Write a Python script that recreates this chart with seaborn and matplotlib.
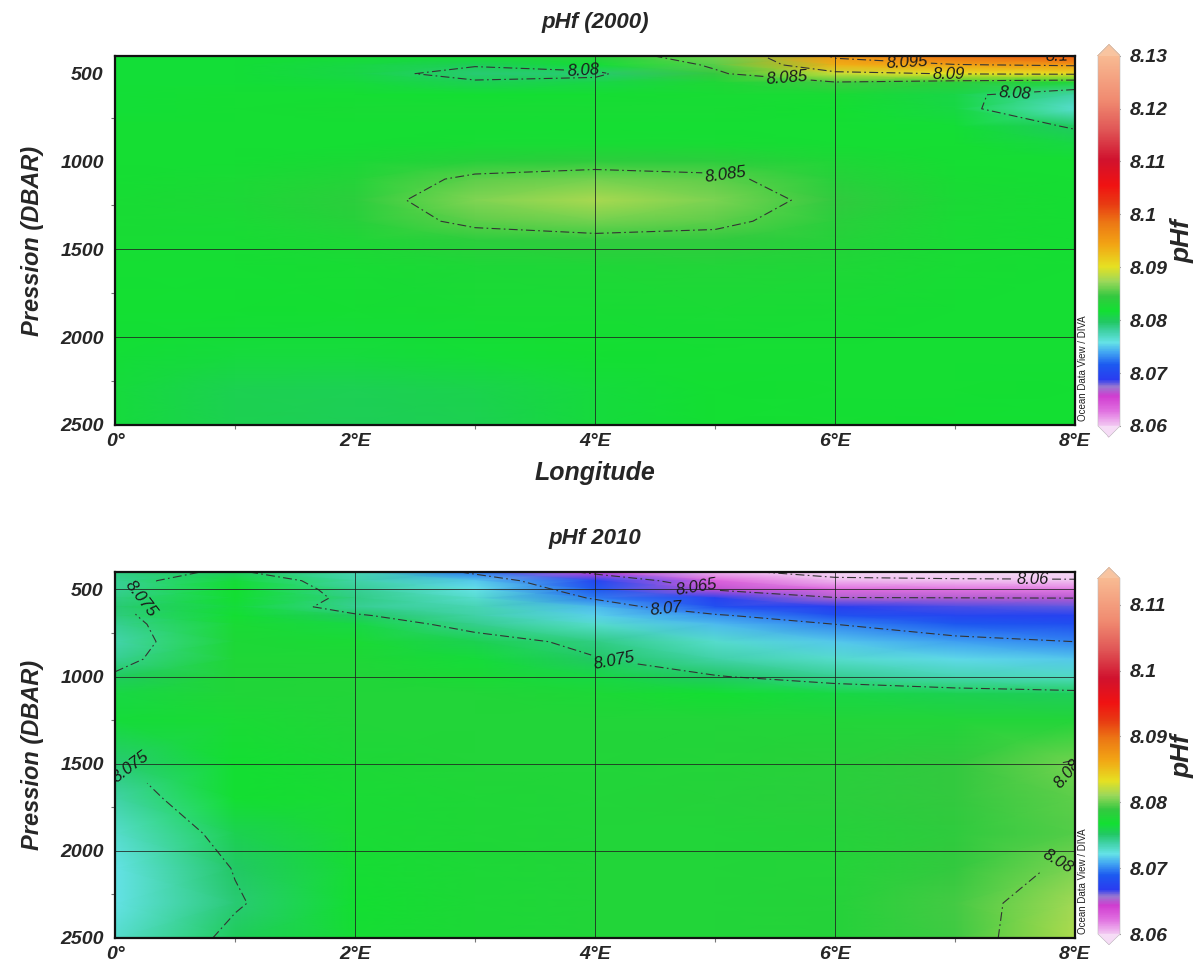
import numpy as np
import matplotlib
matplotlib.use("Agg")
import matplotlib.pyplot as plt
from matplotlib.colors import LinearSegmentedColormap, Normalize
import seaborn as sns

# --- data (pHf, section 0-8°E) ---
lon = [0, 1, 2, 3, 4, 5, 6, 7, 8]

pres_2000 = [400, 450, 500, 550, 620, 700, 800, 900, 1000, 1100, 1220, 1340, 1450, 1600, 1850, 2100, 2300, 2500]
ph_2000 = [
    [8.0815, 8.0815, 8.0820, 8.0820, 8.0838, 8.0862, 8.0955, 8.0988, 8.1003],
    [8.0815, 8.0815, 8.0810, 8.0802, 8.0815, 8.0855, 8.0935, 8.0948, 8.0955],
    [8.0815, 8.0815, 8.0808, 8.0792, 8.0794, 8.0845, 8.0890, 8.0902, 8.0905],
    [8.0815, 8.0815, 8.0812, 8.0803, 8.0808, 8.0828, 8.0848, 8.0838, 8.0830],
    [8.0815, 8.0820, 8.0820, 8.0818, 8.0820, 8.0822, 8.0822, 8.0808, 8.0778],
    [8.0815, 8.0820, 8.0822, 8.0822, 8.0822, 8.0822, 8.0818, 8.0810, 8.0765],
    [8.0820, 8.0820, 8.0820, 8.0820, 8.0820, 8.0820, 8.0820, 8.0815, 8.0798],
    [8.0820, 8.0820, 8.0820, 8.0822, 8.0822, 8.0822, 8.0820, 8.0820, 8.0810],
    [8.0820, 8.0820, 8.0825, 8.0835, 8.0840, 8.0838, 8.0828, 8.0820, 8.0820],
    [8.0820, 8.0823, 8.0832, 8.0856, 8.0862, 8.0856, 8.0835, 8.0822, 8.0820],
    [8.0822, 8.0826, 8.0838, 8.0866, 8.0878, 8.0864, 8.0842, 8.0825, 8.0820],
    [8.0822, 8.0824, 8.0835, 8.0856, 8.0862, 8.0856, 8.0837, 8.0823, 8.0820],
    [8.0822, 8.0822, 8.0828, 8.0838, 8.0843, 8.0842, 8.0833, 8.0823, 8.0820],
    [8.0820, 8.0820, 8.0822, 8.0826, 8.0828, 8.0830, 8.0828, 8.0822, 8.0820],
    [8.0818, 8.0818, 8.0820, 8.0822, 8.0822, 8.0824, 8.0822, 8.0820, 8.0820],
    [8.0815, 8.0812, 8.0812, 8.0815, 8.0818, 8.0820, 8.0820, 8.0820, 8.0820],
    [8.0813, 8.0805, 8.0803, 8.0806, 8.0812, 8.0818, 8.0820, 8.0820, 8.0818],
    [8.0812, 8.0805, 8.0802, 8.0805, 8.0812, 8.0818, 8.0820, 8.0818, 8.0818],
]

pres_2010 = [400, 450, 500, 550, 600, 650, 700, 800, 900, 1000, 1100, 1250, 1500, 1700, 1900, 2100, 2300, 2500]
ph_2010 = [
    [8.0745, 8.0752, 8.0735, 8.0695, 8.0642, 8.0605, 8.0592, 8.0590, 8.0590],
    [8.0742, 8.0765, 8.0738, 8.0715, 8.0675, 8.0628, 8.0605, 8.0603, 8.0602],
    [8.0742, 8.0768, 8.0742, 8.0722, 8.0688, 8.0648, 8.0625, 8.0622, 8.0620],
    [8.0745, 8.0768, 8.0745, 8.0728, 8.0698, 8.0672, 8.0652, 8.0651, 8.0650],
    [8.0748, 8.0765, 8.0742, 8.0735, 8.0712, 8.0682, 8.0670, 8.0665, 8.0663],
    [8.0746, 8.0768, 8.0752, 8.0738, 8.0718, 8.0703, 8.0683, 8.0675, 8.0672],
    [8.0742, 8.0772, 8.0762, 8.0743, 8.0728, 8.0712, 8.0700, 8.0688, 8.0682],
    [8.0737, 8.0775, 8.0772, 8.0758, 8.0745, 8.0728, 8.0716, 8.0706, 8.0700],
    [8.0742, 8.0776, 8.0776, 8.0765, 8.0751, 8.0738, 8.0728, 8.0720, 8.0715],
    [8.0753, 8.0777, 8.0778, 8.0772, 8.0762, 8.0751, 8.0742, 8.0735, 8.0730],
    [8.0762, 8.0777, 8.0778, 8.0778, 8.0775, 8.0768, 8.0762, 8.0758, 8.0755],
    [8.0765, 8.0772, 8.0778, 8.0778, 8.0778, 8.0778, 8.0778, 8.0778, 8.0778],
    [8.0748, 8.0768, 8.0775, 8.0778, 8.0778, 8.0779, 8.0782, 8.0788, 8.0802],
    [8.0738, 8.0768, 8.0772, 8.0776, 8.0778, 8.0780, 8.0783, 8.0788, 8.0798],
    [8.0728, 8.0758, 8.0772, 8.0776, 8.0778, 8.0778, 8.0780, 8.0786, 8.0796],
    [8.0722, 8.0751, 8.0770, 8.0775, 8.0778, 8.0778, 8.0779, 8.0788, 8.0804],
    [8.0722, 8.0748, 8.0768, 8.0775, 8.0778, 8.0778, 8.0780, 8.0792, 8.0812],
    [8.0728, 8.0755, 8.0770, 8.0775, 8.0778, 8.0778, 8.0780, 8.0791, 8.0816],
]

levels_2000 = [8.08, 8.085, 8.09, 8.095, 8.1]
levels_2010 = [8.06, 8.065, 8.07, 8.075, 8.08]
cbar_ticks_2000 = [8.06, 8.07, 8.08, 8.09, 8.1, 8.11, 8.12, 8.13]
cbar_ticks_2010 = [8.06, 8.07, 8.08, 8.09, 8.1, 8.11]
xtick_labels = ["0°", "2°E", "4°E", "6°E", "8°E"]

# --- style ---
sns.set_theme(style="white")
plt.rcParams["font.family"] = ["Liberation Sans", "DejaVu Sans"]
bi = dict(fontweight="bold", fontstyle="italic")

# palette type Ocean Data View
odv_nodes = [
    (0.000, "#f2c8f2"), (0.040, "#e070e0"), (0.080, "#d03cd0"), (0.105, "#9a78d0"),
    (0.125, "#2a3cf0"), (0.165, "#1c5af0"), (0.200, "#44aaf2"), (0.225, "#64e2e6"),
    (0.255, "#40d2a6"), (0.280, "#22c864"), (0.310, "#12e032"), (0.350, "#34c840"),
    (0.390, "#9cd85a"), (0.430, "#e6e022"), (0.490, "#f2a414"), (0.550, "#ec7614"),
    (0.600, "#e83a12"), (0.650, "#f01212"), (0.720, "#d0122e"), (0.800, "#e05656"),
    (0.880, "#f08a70"), (1.000, "#f8ba92"),
]
odv = LinearSegmentedColormap.from_list("odv", odv_nodes, N=512)
odv.set_under("#f6dcf6")
odv.set_over("#f8c4a0")

fig = plt.figure(figsize=(12.03, 9.67), dpi=100)

panels = [
    dict(title="pHf (2000)", pres=pres_2000, ph=ph_2000, vmin=8.06, vmax=8.13,
         levels=levels_2000, ticks=cbar_ticks_2000, ax_box=[0.0956, 0.5605, 0.798, 0.3815],
         cax_box=[0.9127, 0.548, 0.0183, 0.406], xlabel="Longitude",
         vgrid=[4, 6], hgrid=[1500, 2000],
         labels=[(3.9, 490), (5.6, 530), (6.6, 440), (6.95, 495), (7.85, 412), (7.5, 610), (5.1, 1040)]),
    dict(title="pHf 2010", pres=pres_2010, ph=ph_2010, vmin=8.06, vmax=8.114,
         levels=levels_2010, ticks=cbar_ticks_2010, ax_box=[0.0956, 0.0300, 0.798, 0.3785],
         cax_box=[0.9127, 0.023, 0.0183, 0.390], xlabel=None,
         vgrid=[2, 4, 6], hgrid=[500, 1000, 1500, 2000],
         labels=[(0.2, 540), (4.85, 470), (4.6, 596), (4.15, 955), (7.65, 437), (0.08, 1550),
                 (7.95, 1550), (7.85, 2050)]),
]

for p in panels:
    ax = fig.add_axes(p["ax_box"])
    X, Y = np.meshgrid(lon, p["pres"])
    Z = np.array(p["ph"])
    norm = Normalize(vmin=p["vmin"], vmax=p["vmax"])
    mesh = ax.pcolormesh(X, Y, Z, cmap=odv, norm=norm, shading="gouraud")

    cs = ax.contour(X, Y, Z, levels=p["levels"], colors="#333333", linewidths=0.8,
                    linestyles=[(0, (8, 3, 1.5, 3))])
    txts = ax.clabel(cs, fmt="%g", fontsize=12, inline=True, inline_spacing=3,
                     manual=p["labels"])
    for t in txts:
        t.set_fontstyle("italic")
        t.set_color("#1a1a1a")

    for gx in p["vgrid"]:
        ax.axvline(gx, color="#202020", lw=0.7, alpha=0.8)
    for gy in p["hgrid"]:
        ax.axhline(gy, color="#202020", lw=0.7, alpha=0.8)

    ax.set_xlim(0, 8)
    ax.set_ylim(2500, 400)
    ax.set_xticks([0, 2, 4, 6, 8])
    ax.set_xticklabels(xtick_labels, fontsize=14, **bi)
    ax.set_xticks([1, 3, 5, 7], minor=True)
    ax.set_yticks([500, 1000, 1500, 2000, 2500])
    ax.set_yticklabels(["500", "1000", "1500", "2000", "2500"], fontsize=14, **bi)
    ax.set_yticks([750, 1250, 1750, 2250], minor=True)
    ax.tick_params(which="major", direction="out", length=5, width=1, color="#555555", pad=3)
    ax.tick_params(axis="x", which="major", pad=1)
    ax.tick_params(which="minor", direction="out", length=3, width=0.8, color="#777777", bottom=True, left=True)
    for s in ax.spines.values():
        s.set_linewidth(1.6)
        s.set_color("#111111")
    ax.set_ylabel("Pression (DBAR)", fontsize=17, labelpad=12, **bi)
    if p["xlabel"]:
        ax.set_xlabel(p["xlabel"], fontsize=18, labelpad=8, **bi)
    ax.set_title(p["title"], fontsize=16, pad=20, **bi)

    cax = fig.add_axes(p["cax_box"])
    cb = fig.colorbar(mesh, cax=cax, extend="both", extendfrac=0.03, ticks=p["ticks"],
                      format=lambda v, pos: f"{v:g}")
    cb.outline.set_linewidth(0.4)
    cb.outline.set_edgecolor("#bbbbbb")
    cax.tick_params(direction="in", length=6, width=0.8, color="#444444", labelsize=14, pad=7)
    for t in cax.get_yticklabels():
        t.set_fontweight("bold")
        t.set_fontstyle("italic")
    cb.set_label("pHf", fontsize=19, labelpad=2, **bi)

    bb = ax.get_position()
    fig.text(bb.x1 + 0.0065, bb.y0 + 0.004, "Ocean Data View / DIVA", rotation=90,
             fontsize=7, ha="center", va="bottom", color="#222222")

fig.savefig("out.png", dpi=100)
